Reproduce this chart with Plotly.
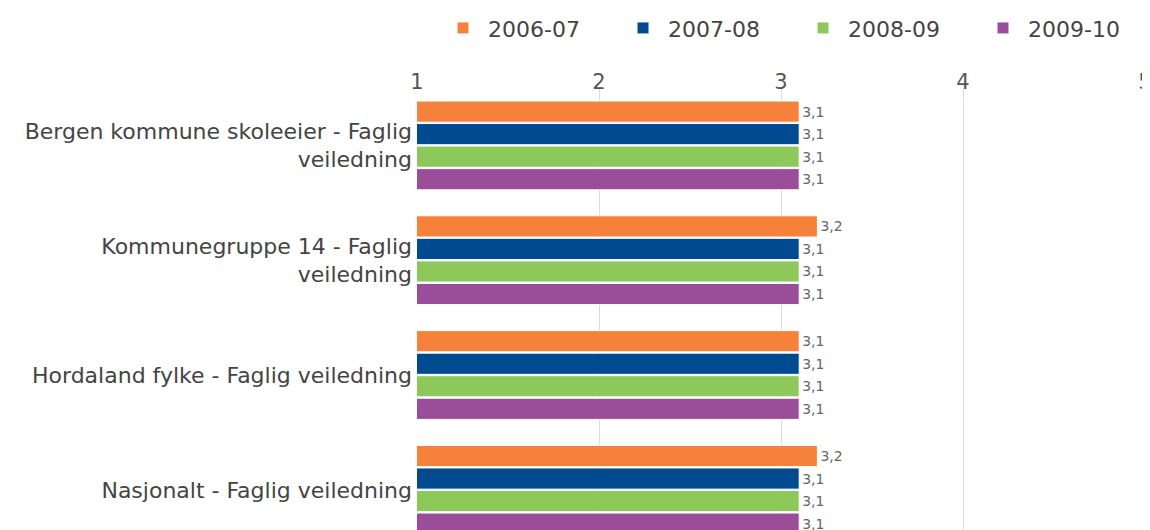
import plotly.graph_objects as go

categories = [
    "Bergen kommune skoleeier - Faglig<br>veiledning",
    "Kommunegruppe 14 - Faglig<br>veiledning",
    "Hordaland fylke - Faglig veiledning",
    "Nasjonalt - Faglig veiledning",
]
series_names = ["2006-07", "2007-08", "2008-09", "2009-10"]
values_2006_07 = [3.1, 3.2, 3.1, 3.2]
values_2007_08 = [3.1, 3.1, 3.1, 3.1]
values_2008_09 = [3.1, 3.1, 3.1, 3.1]
values_2009_10 = [3.1, 3.1, 3.1, 3.1]
x_ticks = [1, 2, 3, 4, 5]

colors = ["#F5813A", "#004A8F", "#8CC85A", "#9A4E9A"]
all_values = [values_2006_07, values_2007_08, values_2008_09, values_2009_10]

FONT = "DejaVu Sans"

fig = go.Figure()
for name, vals, col in zip(series_names, all_values, colors):
    fig.add_trace(go.Bar(
        y=categories, x=vals, name=name, orientation="h",
        marker=dict(color=col, line=dict(color="white", width=1)),
        texttemplate="%{x:.1f}", textposition="outside",
        textfont=dict(family=FONT, size=14, color="#666666"),
        cliponaxis=True,
    ))

fig.update_layout(
    width=1150, height=530,
    margin=dict(l=409, r=13, t=80, b=8),
    paper_bgcolor="white", plot_bgcolor="white",
    barmode="group", bargap=0.215, bargroupgap=0.06,
    separators=", ",
    font=dict(family=FONT, color="#444444"),
    showlegend=True,
    legend=dict(
        orientation="h", xref="container", x=1.0, xanchor="right",
        yref="container", y=0.962, yanchor="middle",
        font=dict(family=FONT, size=22, color="#444444"),
        traceorder="normal", itemwidth=40, entrywidth=125, entrywidthmode="pixels",
    ),
    xaxis=dict(
        side="top", range=[1, 5], tickvals=x_ticks, ticktext=[str(t) for t in x_ticks],
        showgrid=True, gridcolor="#DCDCDC", gridwidth=1, zeroline=False,
        showline=False, ticks="", automargin=False, ticklabelstandoff=-6,
        tickfont=dict(family=FONT, size=21, color="#555555"),
    ),
    yaxis=dict(
        range=[3.35, -0.5], showgrid=False, zeroline=False, showline=False,
        ticks="", ticklabelstandoff=4, automargin=False,
        tickfont=dict(family=FONT, size=22, color="#444444"),
    ),
)

fig.write_html("out.html")
